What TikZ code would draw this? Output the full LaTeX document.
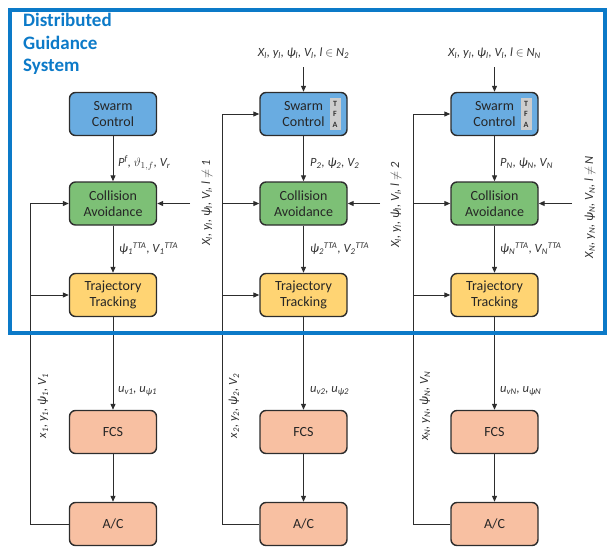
\documentclass[tikz,border=0pt]{standalone}
\usepackage{fontspec}
\setmainfont{Carlito}
\usetikzlibrary{arrows.meta}
\definecolor{frameblue}{RGB}{12,122,200}
\definecolor{scblue}{RGB}{105,172,225}
\definecolor{cagreen}{RGB}{125,192,118}
\definecolor{ttyellow}{RGB}{255,212,115}
\definecolor{fcsorange}{RGB}{248,192,162}
\definecolor{edgegray}{RGB}{45,45,45}
\definecolor{tfagray}{RGB}{205,205,205}
\newcommand{\dsub}[1]{\textsubscript{#1}}
\newcommand{\dsup}[1]{\textsuperscript{#1}}
\begin{document}
\begin{tikzpicture}[x=1pt,y=-1pt,
  blk/.style={draw=edgegray, line width=1.4pt, rounded corners=6pt, minimum width=87pt, minimum height=43pt, align=center, font=\fontsize{14}{16}\selectfont, text=black!85, inner sep=1pt},
  scbox/.style={blk, fill=scblue},
  cabox/.style={blk, fill=cagreen},
  ttbox/.style={blk, fill=ttyellow},
  fcsbox/.style={blk, fill=fcsorange},
  arr/.style={-{Triangle[length=6pt,width=5pt]}, line width=1pt, draw=edgegray},
  lab/.style={font=\fontsize{12.5}{14}\selectfont\itshape, text=black!80, inner sep=0pt},
  tfa/.style={fill=tfagray, minimum width=11pt, minimum height=32pt, inner sep=0pt, align=center, font=\fontsize{8}{10.5}\selectfont\bfseries, text=black!80}
]
\useasboundingbox (0,0) rectangle (608,549);

% title
\node[anchor=north west, align=left, font=\fontsize{19}{22.5}\selectfont\bfseries, text=frameblue, inner sep=0pt] (title) at (23,13) {Distributed\\Guidance\\System};

% column 1
\node[scbox] (sc1) at (113,114) {Swarm\\Control};
\node[cabox] (ca1) at (113,203.5) {Collision\\Avoidance};
\node[ttbox] (tt1) at (113,295) {Trajectory\\Tracking};
\node[fcsbox] (fcs1) at (113,432) {FCS};
\node[fcsbox] (ac1) at (113,524) {A/C};

% column 2
\node[scbox] (sc2) at (303.5,114) {Swarm\\Control};
\node[tfa] (tfa2) at (335,114) {T\\F\\A};
\node[cabox] (ca2) at (303.5,203.5) {Collision\\Avoidance};
\node[ttbox] (tt2) at (303.5,295) {Trajectory\\Tracking};
\node[fcsbox] (fcs2) at (303.5,432) {FCS};
\node[fcsbox] (ac2) at (303.5,524) {A/C};

% column 3
\node[scbox] (sc3) at (494.5,114) {Swarm\\Control};
\node[tfa] (tfa3) at (526,114) {T\\F\\A};
\node[cabox] (ca3) at (494.5,203.5) {Collision\\Avoidance};
\node[ttbox] (tt3) at (494.5,295) {Trajectory\\Tracking};
\node[fcsbox] (fcs3) at (494.5,432) {FCS};
\node[fcsbox] (ac3) at (494.5,524) {A/C};

% vertical chain arrows
\foreach \c in {1,2,3}{
  \draw[arr] (sc\c) -- (ca\c);
  \draw[arr] (ca\c) -- (tt\c);
  \draw[arr] (tt\c) -- (fcs\c);
  \draw[arr] (fcs\c) -- (ac\c);
}

% feedback coordinates
\coordinate (f1ca) at (30,203.5);
\coordinate (f1tt) at (30,295);
\coordinate (f2sc) at (222,114);
\coordinate (f2ca) at (222,203.5);
\coordinate (f2tt) at (222,295);
\coordinate (f3sc) at (413,114);
\coordinate (f3ca) at (413,203.5);
\coordinate (f3tt) at (413,295);

\draw[arr] (ac1.west) -| (f1ca) -- (ca1.west);
\draw[arr] (f1tt) -- (tt1.west);
\draw[arr] (ac2.west) -| (f2sc) -- (sc2.west);
\draw[arr] (f2ca) -- (ca2.west);
\draw[arr] (f2tt) -- (tt2.west);
\draw[arr] (ac3.west) -| (f3sc) -- (sc3.west);
\draw[arr] (f3ca) -- (ca3.west);
\draw[arr] (f3tt) -- (tt3.west);

% right inputs to collision avoidance
\coordinate (r1) at (190,203.5);
\coordinate (r2) at (380,203.5);
\coordinate (r3) at (572,203.5);
\draw[arr] (r1) -- (ca1.east);
\draw[arr] (r2) -- (ca2.east);
\draw[arr] (r3) -- (ca3.east);

% top inputs
\coordinate (t2) at (303.5,67);
\coordinate (t3) at (494.5,67);
\draw[arr] (t2) -- (sc2.north);
\draw[arr] (t3) -- (sc3.north);
\node[lab] (tl2) at (303.5,53) {X\dsub{l}, y\dsub{l}, ψ\dsub{l}, V\dsub{l}, l $\in$ N\dsub{2}};
\node[lab] (tl3) at (494.5,53) {X\dsub{l}, y\dsub{l}, ψ\dsub{l}, V\dsub{l}, l $\in$ N\dsub{N}};

% labels SC -> CA
\node[lab, anchor=west] (l1a) at (118,163) {P\dsup{f}, $\vartheta_{1,f}$, V\dsub{r}};
\node[lab, anchor=west] (l2a) at (310,163) {P\dsub{2}, ψ\dsub{2}, V\dsub{2}};
\node[lab, anchor=west] (l3a) at (500,163) {P\dsub{N}, ψ\dsub{N}, V\dsub{N}};

% labels CA -> TT
\node[lab, anchor=west] (l1b) at (119,249) {ψ\dsub{1}\dsup{TTA}, V\dsub{1}\dsup{TTA}};
\node[lab, anchor=west] (l2b) at (310,249) {ψ\dsub{2}\dsup{TTA}, V\dsub{2}\dsup{TTA}};
\node[lab, anchor=west] (l3b) at (500,249) {ψ\dsub{N}\dsup{TTA}, V\dsub{N}\dsup{TTA}};

% labels TT -> FCS
\node[lab, anchor=west] (l1c) at (118,391) {u\dsub{v1}, u\dsub{ψ1}};
\node[lab, anchor=west] (l2c) at (310,391) {u\dsub{v2}, u\dsub{ψ2}};
\node[lab, anchor=west] (l3c) at (500,391) {u\dsub{vN}, u\dsub{ψN}};

% rotated labels right of collision avoidance
\node[lab, rotate=90] (rl1) at (207,203) {X\dsub{l}, y\dsub{l}, ψ\dsub{l}, V\dsub{l}, l $\neq$ 1};
\node[lab, rotate=90] (rl2) at (396,205) {X\dsub{l}, y\dsub{l}, ψ\dsub{l}, V\dsub{l}, l $\neq$ 2};
\node[lab, rotate=90] (rl3) at (590,207) {X\dsub{N}, y\dsub{N}, ψ\dsub{N}, V\dsub{N}, l $\neq$ N};

% rotated feedback labels
\node[lab, rotate=90] (fl1) at (43,406) {x\dsub{1}, y\dsub{1}, ψ\dsub{1}, V\dsub{1}};
\node[lab, rotate=90] (fl2) at (234,406) {x\dsub{2}, y\dsub{2}, ψ\dsub{2}, V\dsub{2}};
\node[lab, rotate=90] (fl3) at (425,406) {x\dsub{N}, y\dsub{N}, ψ\dsub{N}, V\dsub{N}};

% blue frame
\draw[frameblue, line width=4pt] (10,10) rectangle (605,333);
\end{tikzpicture}
\end{document}
